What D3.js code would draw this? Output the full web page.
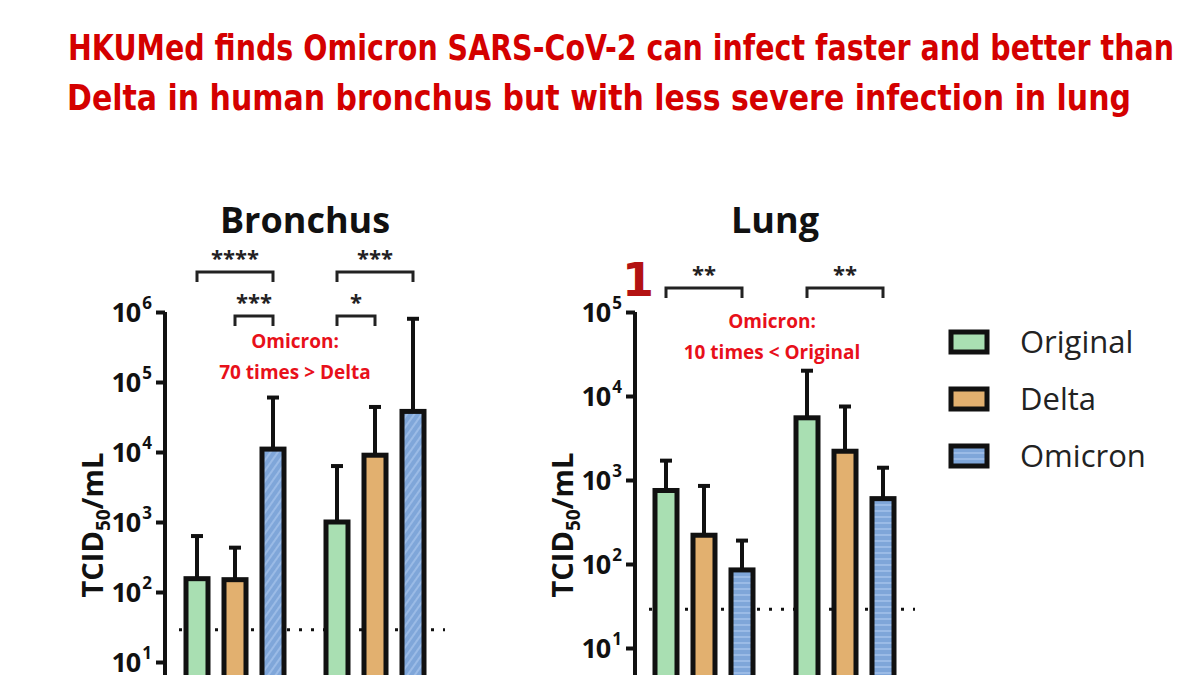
<!DOCTYPE html>
<html><head><meta charset="utf-8">
<script src="https://cdn.jsdelivr.net/npm/d3@7"></script>
<style>body{margin:0;background:#fff}</style>
</head><body>
<script>
'use strict';

var variants = ['Original', 'Delta', 'Omicron'];
var colors = ['#a9dfb2', '#e2b06f', '#7fa6d9'];
// two groups x three variants
var bronchusValues = [155, 150, 11000, 1000, 9000, 38000];
var bronchusErrors = [630, 430, 60000, 6300, 44000, 800000];
var lungValues = [750, 220, 85, 5500, 2200, 600];
var lungErrors = [1700, 850, 190, 20000, 7500, 1400];
var detectionLimit = 29;

var w = 1200, h = 675;
var svg = d3.select('body').append('svg').attr('width', w).attr('height', h);

var defs = svg.append('defs');
function stripes(id, angle) {
	var p = defs.append('pattern').attr('id', id).attr('patternUnits', 'userSpaceOnUse')
		.attr('width', 6).attr('height', 6).attr('patternTransform', 'rotate(' + angle + ')');
	p.append('rect').attr('width', 6).attr('height', 6).attr('fill', colors[2]);
	p.append('rect').attr('width', 6).attr('height', 2).attr('fill', '#9bbbe6');
}
stripes('diag', -55);
stripes('horiz', 0);

var titleFont = '"DejaVu Sans", sans-serif';
var title = svg.append('g').attr('text-anchor', 'middle').attr('fill', '#d40000')
	.attr('font-family', titleFont).attr('font-weight', 'bold').attr('font-size', 36);
title.append('text').attr('x', 621).attr('y', 60).attr('textLength', 1106).attr('lengthAdjust', 'spacingAndGlyphs')
	.text('HKUMed finds Omicron SARS-CoV-2 can infect faster and better than');
title.append('text').attr('x', 599).attr('y', 110).attr('textLength', 1064).attr('lengthAdjust', 'spacingAndGlyphs')
	.text('Delta in human bronchus but with less severe infection in lung');

var font = '"Open Sans", "DejaVu Sans", sans-serif';

function panel(opt) {
	var g = svg.append('g');
	var y = d3.scaleLog().domain([1, opt.top]).range([opt.yTop + opt.dec * Math.log10(opt.top), opt.yTop]);
	function cx(i) { return opt.x0 + i * 38 + (i > 2 ? opt.gap : 0); }

	// axis
	var ticks = d3.range(1, Math.log10(opt.top) + 1).map(function(e) { return Math.pow(10, e); });
	var axis = d3.axisLeft(y).tickValues(ticks).tickSize(9).tickFormat('');
	var ag = g.append('g').attr('transform', 'translate(' + opt.ax + ',0)').call(axis);
	ag.selectAll('line, path').attr('stroke', '#111').attr('stroke-width', 4);
	ag.select('path').attr('d', 'M0,' + y(opt.top) + 'V' + h);
	ticks.forEach(function(t) {
		var e = Math.round(Math.log10(t));
		var tx = g.append('text').attr('x', opt.ax - 13).attr('y', y(t) + 10)
			.attr('text-anchor', 'end').attr('font-family', font).attr('font-weight', 'bold')
			.attr('font-size', 27).attr('fill', '#111');
		tx.append('tspan').attr('letter-spacing', -1).text('10');
		tx.append('tspan').attr('dy', -13).attr('dx', 2).attr('font-size', 17).text(e);
	});

	// y label
	var yl = g.append('text').attr('transform', 'translate(' + (opt.ax - 62) + ',525) rotate(-90)')
		.attr('text-anchor', 'middle').attr('font-family', font).attr('font-weight', 'bold')
		.attr('font-size', 29).attr('fill', '#111');
	yl.append('tspan').text('TCID');
	yl.append('tspan').attr('font-size', 19).attr('dy', 7).text('50');
	yl.append('tspan').attr('dy', -7).text('/mL');

	// detection limit
	g.append('line').attr('x1', opt.ax + 14).attr('x2', cx(5) + 32)
		.attr('y1', y(detectionLimit)).attr('y2', y(detectionLimit))
		.attr('stroke', '#111').attr('stroke-width', 3).attr('stroke-dasharray', '3,9');

	var bw = 22;
	opt.values.forEach(function(v, i) {
		var c = cx(i), k = i % 3;
		var fill = k === 2 ? 'url(#' + opt.pattern + ')' : colors[k];
		g.append('line').attr('x1', c).attr('x2', c).attr('y1', y(v)).attr('y2', y(opt.errors[i]))
			.attr('stroke', '#111').attr('stroke-width', 4);
		g.append('line').attr('x1', c - 6).attr('x2', c + 6).attr('y1', y(opt.errors[i])).attr('y2', y(opt.errors[i]))
			.attr('stroke', '#111').attr('stroke-width', 4);
		g.append('rect').attr('x', c - bw / 2).attr('y', y(v)).attr('width', bw).attr('height', h - y(v) + 10)
			.attr('fill', fill).attr('stroke', '#111').attr('stroke-width', 5);
	});

	opt.brackets.forEach(function(b) {
		var a = cx(b[0]), z = cx(b[1]);
		g.append('path').attr('d', 'M' + a + ',' + (b[2] + 10) + 'V' + b[2] + 'H' + z + 'V' + (b[2] + 10))
			.attr('fill', 'none').attr('stroke', '#222').attr('stroke-width', 3);
		g.append('text').attr('x', (a + z) / 2).attr('y', b[2] - 6).attr('text-anchor', 'middle')
			.attr('font-family', font).attr('font-weight', 'bold').attr('font-size', 22)
			.attr('fill', '#222').text(b[3]);
	});

	g.append('text').attr('x', opt.titleX).attr('y', 233).attr('text-anchor', 'middle')
		.attr('font-family', font).attr('font-weight', 'bold').attr('font-size', 36)
		.attr('fill', '#111').text(opt.title);

	var note = g.append('text').attr('text-anchor', 'middle').attr('font-family', font)
		.attr('font-weight', 'bold').attr('font-size', 19).attr('fill', '#e8101a');
	note.append('tspan').attr('x', opt.noteX).attr('y', opt.noteY).text('Omicron:');
	note.append('tspan').attr('x', opt.noteX).attr('y', opt.noteY + 31).text(opt.note);
}

panel({
	title: 'Bronchus', titleX: 305, ax: 165, x0: 197, gap: 26, yTop: 312, top: 1e6, dec: 70,
	values: bronchusValues, errors: bronchusErrors, pattern: 'diag',
	brackets: [[0, 2, 272, '****'], [1, 2, 316, '***'], [3, 5, 272, '***'], [3, 4, 316, '*']],
	noteX: 295, noteY: 348, note: '70 times > Delta'
});
panel({
	title: 'Lung', titleX: 775, ax: 635, x0: 666, gap: 27, yTop: 312, top: 1e5, dec: 84,
	values: lungValues, errors: lungErrors, pattern: 'horiz',
	brackets: [[0, 2, 288, '**'], [3, 5, 288, '**']],
	noteX: 772, noteY: 328, note: '10 times < Original'
});

// stray red mark left of the lung brackets
svg.append('text').attr('x', 638).attr('y', 296).attr('text-anchor', 'middle')
	.attr('font-family', titleFont).attr('font-weight', 'bold').attr('font-size', 46)
	.attr('fill', '#b31212').text('1');

// legend
var leg = svg.append('g').selectAll('g').data(variants).join('g')
	.attr('transform', function(d, i) { return 'translate(951,' + (332 + i * 57) + ')'; });
leg.append('rect').attr('width', 36).attr('height', 20)
	.attr('fill', function(d, i) { return i === 2 ? 'url(#horiz)' : colors[i]; })
	.attr('stroke', '#111').attr('stroke-width', 5);
leg.append('text').attr('x', 69).attr('y', 21).attr('font-family', font).attr('font-size', 31)
	.attr('fill', '#222').text(function(d) { return d; });
</script>
</body></html>
